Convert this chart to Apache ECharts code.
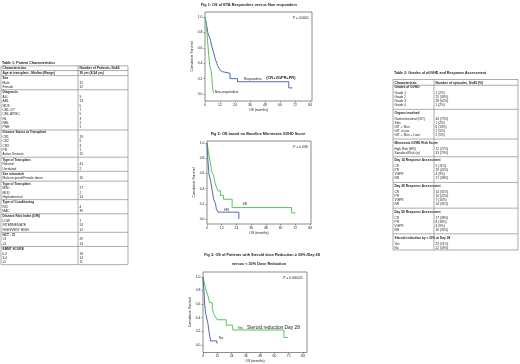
<!DOCTYPE html>
<html>
<head>
<meta charset="utf-8">
<script src="https://cdn.jsdelivr.net/npm/echarts@6/dist/echarts.min.js"></script>
<style>
html,body{margin:0;padding:0;background:#fff}
#main{width:520px;height:364px}
</style>
</head>
<body>
<div id="main"></div>
<script>
// ticks
var monthTicks = [0, 12, 24, 36, 48, 60, 72, 84];
var survTicks = [0, 0.2, 0.4, 0.6, 0.8, 1.0];

// Fig 1 - [months, cumulative survival]
var fig1Responders = [[0,1],[1,0.93],[1.5,0.87],[2.5,0.78],[3.5,0.74],[4.4,0.7],[5,0.65],[5.6,0.61],[6.3,0.57],[7,0.53],[8,0.47],[8.5,0.44],[9.5,0.4],[10,0.37],[11,0.34],[12,0.31],[13,0.29],[14,0.27],[20,0.2],[26,0.16],[67,0.08],[70,0.08]];
var fig1NonResponders = [[0,1],[1,0.9],[1.5,0.8],[2,0.7],[2.5,0.6],[3,0.5],[3.5,0.42],[4,0.35],[5,0.3],[5.5,0.2],[6,0.1],[6.5,0.04],[7,0.01]];

// Fig 2
var fig2SR = [[0,1],[1,0.9],[2,0.8],[3,0.72],[3.5,0.65],[4.5,0.6],[5.4,0.57],[6,0.52],[6.8,0.46],[8,0.41],[9,0.37],[11,0.31],[13.5,0.26],[20.5,0.15],[69,0.08],[72,0.08]];
var fig2HR = [[0,1],[0.8,0.76],[1.6,0.59],[3,0.5],[4.3,0.37],[5.4,0.26],[7,0.2],[7.6,0.13],[9,0.09],[26,0.09],[26.01,0]];

// Fig 3
var fig3Yes = [[0,1],[1.4,0.88],[2.8,0.79],[4.2,0.72],[5.5,0.62],[7.8,0.54],[8.9,0.46],[10.5,0.41],[12,0.37],[19.5,0.29],[25,0.22],[68,0.11],[71,0.11]];
var fig3No = [[0,1],[0.8,0.8],[1.4,0.6],[2.2,0.47],[3.3,0.38],[4.2,0.31],[5,0.2],[6.4,0.06],[11.7,0.06],[11.71,0.02]];

// Table 1
var table1Header = ['Characteristics', 'Number of Patients, N=45'];
var table1Sections = [
  {label: 'Age at transplant - Median (Range)', value: '30 yrs (8-54 yrs)', items: []},
  {label: 'Sex', items: [['Male','31'],['Female','12']]},
  {label: 'Diagnosis', items: [['ALL','9'],['AML','13'],['MDS','5'],['CML CP','7'],['CML AP/BC','5'],['HL','3'],['NHL','2'],['PNH','1']]},
  {label: 'Disease Status at Transplant', items: [['CR1','19'],['CR2','5'],['CR3','3'],['PR','1'],['Active Disease','15']]},
  {label: 'Type of Transplant', items: [['Related','41'],['Unrelated','2']]},
  {label: 'Sex mismatch', items: [['Male recipient/Female donor','16']]},
  {label: 'Type of Transplant', items: [['MSD','27'],['MUD','2'],['Haploidentical','14']]},
  {label: 'Type of Conditioning', items: [['RIC','4'],['MAC','39']]},
  {label: 'Disease Risk Index (DRI)', items: [['LOW','7'],['INTERMEDIATE','24'],['HIGH/VERY HIGH','12']]},
  {label: 'HCT - CI', items: [['<3','29'],['\u22653','14']]},
  {label: 'EBMT SCORE', items: [['0-2','18'],['3-4','14'],['\u22655','11']]}
];

// Table 2
var table2Header = ['Characteristic', 'Number of episodes, N=45 (%)'];
var table2Sections = [
  {label: 'Grades of GVHD', items: [['Grade 1','1 (2%)'],['Grade 2','15 (34%)'],['Grade 3','28 (62%)'],['Grade 4','1 (2%)']]},
  {label: 'Organs involved', items: [['Gastrointestinal (GIT)','34 (75%)'],['Skin','1 (2%)'],['GIT + Skin','6 (13%)'],['GIT +Liver','2 (5%)'],['GIT + Skin + Liver','2 (5%)']]},
  {label: 'Minnesota GVHD Risk Score', items: [['High Risk (HR)','12 (27%)'],['Standard Risk (sr)','33 (73%)']]},
  {label: 'Day 14 Response Assessment', items: [['CR','5 (11%)'],['PR','19 (42%)'],['VGPR','4 (9%)'],['NR','17 (38%)']]},
  {label: 'Day 28 Response Assessment', items: [['CR','14 (31%)'],['PR','10 (22%)'],['VGPR','7 (16%)'],['NR','14 (31%)']]},
  {label: 'Day 56 Response Assessment', items: [['CR','17 (38%)'],['PR','8 (18%)'],['VGPR','4 (9%)'],['NR','16 (35%)']]},
  {label: 'Steroid reduction by \u2265 30% at Day 28', items: [['Yes','23 (51%)'],['No','22 (49%)']]}
];

var BLUE = '#5468b4';
var GREEN = '#5cc25c';
var FONT = 'Liberation Sans';
var TXT = '#222';

function makeTable(t) {
  var els = [];
  var y = t.headerY;
  els.push({type:'text', style:{text:t.title, x:t.x0 + 1, y:t.titleY, font:'bold 3.6px ' + FONT, fill:TXT, verticalAlign:'middle'}});
  els.push({type:'text', style:{text:t.header[0], x:t.x0 + 1.5, y:y, font:'bold 3.3px ' + FONT, fill:TXT, verticalAlign:'middle'}});
  els.push({type:'text', style:{text:t.header[1], x:t.xDiv + 1.5, y:y, font:'bold 3.3px ' + FONT, fill:TXT, verticalAlign:'middle'}});
  var lines = [t.yTop];
  var last = y;
  t.sections.forEach(function (s, i) {
    var ly = i === 0 ? last + t.headerGap : last + t.sectionGap;
    lines.push((last + ly) / 2);
    els.push({type:'text', style:{text:s.label, x:t.x0 + 1.5, y:ly, font:'bold 3.2px ' + FONT, fill:TXT, verticalAlign:'middle'}});
    if (s.value) els.push({type:'text', style:{text:s.value, x:t.xDiv + 1.5, y:ly, font:'bold 3.2px ' + FONT, fill:TXT, verticalAlign:'middle'}});
    last = ly;
    s.items.forEach(function (it, j) {
      var iy = j === 0 ? last + t.labelGap : last + t.pitch;
      els.push({type:'text', style:{text:it[0], x:t.x0 + 1.5, y:iy, font:'3.2px ' + FONT, fill:TXT, verticalAlign:'middle'}});
      els.push({type:'text', style:{text:it[1], x:t.xDiv + 1.5, y:iy, font:'3.2px ' + FONT, fill:TXT, verticalAlign:'middle'}});
      last = iy;
    });
  });
  var yBot = last + 2.3;
  lines.push(yBot);
  lines.forEach(function (ly) {
    els.push({type:'line', shape:{x1:t.x0, y1:ly, x2:t.x1, y2:ly}, style:{stroke:'#8a8a8a', lineWidth:0.7}});
  });
  [t.x0, t.xDiv, t.x1].forEach(function (lx) {
    els.push({type:'line', shape:{x1:lx, y1:t.yTop, x2:lx, y2:yBot}, style:{stroke:'#8a8a8a', lineWidth:0.7}});
  });
  return els;
}

var grids = [
  {left:205, top:12, width:107, height:89},
  {left:207, top:141, width:104, height:83},
  {left:203, top:272, width:104, height:85}
];
var xMax = [85.6, 84.8, 87.4];
var yMin = [-0.09, -0.066, -0.11];
var yMax = [1.065, 1.026, 1.07];

var chart = echarts.init(document.getElementById('main'));

var option = {
  animation: false,
  backgroundColor: '#fff',
  grid: grids.map(function (g) {
    return {left:g.left, top:g.top, width:g.width, height:g.height, show:true, borderColor:'#707070', borderWidth:0.8, backgroundColor:'#fff'};
  }),
  xAxis: grids.map(function (g, i) {
    return {
      type:'value', gridIndex:i, min:0, max:xMax[i],
      name:'OS (months)', nameLocation:'middle', nameGap:7.5,
      nameTextStyle:{fontSize:3.4, fontFamily:FONT, color:TXT},
      axisLine:{show:false, onZero:false}, splitLine:{show:false},
      axisTick:{show:true, length:1.5, customValues:monthTicks, lineStyle:{color:'#555', width:0.6}},
      axisLabel:{fontSize:3.4, fontFamily:FONT, color:TXT, margin:2.3, customValues:monthTicks}
    };
  }),
  yAxis: grids.map(function (g, i) {
    return {
      type:'value', gridIndex:i, min:yMin[i], max:yMax[i],
      name:'Cumulative Survival', nameLocation:'middle', nameGap:9, nameRotate:90,
      nameTextStyle:{fontSize:3.4, fontFamily:FONT, color:TXT},
      axisLine:{show:false, onZero:false}, splitLine:{show:false},
      axisTick:{show:true, length:1.5, customValues:survTicks, lineStyle:{color:'#555', width:0.6}},
      axisLabel:{fontSize:3.4, fontFamily:FONT, color:TXT, margin:2.5, customValues:survTicks,
        formatter:function (v) { return v.toFixed(1); }}
    };
  }),
  series: [
    {name:'Responders', data:fig1Responders, idx:0, color:BLUE},
    {name:'Non-responders', data:fig1NonResponders, idx:0, color:GREEN},
    {name:'SR', data:fig2SR, idx:1, color:GREEN},
    {name:'HR', data:fig2HR, idx:1, color:BLUE},
    {name:'Yes', data:fig3Yes, idx:2, color:GREEN},
    {name:'No', data:fig3No, idx:2, color:BLUE}
  ].map(function (s) {
    return {
      type:'line', name:s.name, step:'end', data:s.data,
      xAxisIndex:s.idx, yAxisIndex:s.idx, showSymbol:false, silent:true,
      lineStyle:{color:s.color, width:1}
    };
  })
};
chart.setOption(option);

function at(i, x, y) { return chart.convertToPixel({gridIndex:i}, [x, y]); }

var graphics = [];
graphics = graphics.concat(makeTable({
  title:'Table 1: Patient Characteristics', titleY:62.5,
  header:table1Header, sections:table1Sections,
  x0:1, xDiv:78, x1:128, yTop:65.8, headerY:68.2,
  headerGap:4.8, labelGap:4.6, pitch:4.35, sectionGap:5.2
}));
graphics = graphics.concat(makeTable({
  title:'Table 2: Grades of aGVHD and Response Assessment', titleY:73,
  header:table2Header, sections:table2Sections,
  x0:393, xDiv:434, x1:518, yTop:79.5, headerY:83,
  headerGap:4.5, labelGap:6, pitch:4, sectionGap:7.7
}));

function txt(text, p, font, align) {
  return {type:'text', style:{text:text, x:p[0], y:p[1], font:font, fill:TXT, align:align || 'left', verticalAlign:'middle'}};
}
// figure titles
graphics.push(txt('Fig 1: OS of ETA Responders versus Non responders', [249, 5], 'bold 3.8px ' + FONT, 'center'));
graphics.push(txt('Fig 2: OS based on Baseline Minnesota GVHD Score', [258, 134], 'bold 3.8px ' + FONT, 'center'));
graphics.push(txt('Fig 3: OS of Patients with Steroid dose Reduction \u2265 30% /Day 28', [262, 254.5], 'bold 3.8px ' + FONT, 'center'));
graphics.push(txt('versus < 30% Dose Reduction', [259, 263.5], 'bold 3.8px ' + FONT, 'center'));
// in-plot annotations
graphics.push(txt('P = 0.0001', at(0, 83, 0.98), '3.3px ' + FONT, 'right'));
graphics.push(txt('Responders', at(0, 31, 0.2), '3.3px ' + FONT));
graphics.push(txt('(CR+VGPR+PR)', at(0, 49, 0.21), 'bold 3.9px ' + FONT));
graphics.push(txt('Non-responders', at(0, 7.8, 0.03), '3.3px ' + FONT));
graphics.push(txt('P = 0.008', at(1, 82, 0.94), '3.3px ' + FONT, 'right'));
graphics.push(txt('SR', at(1, 29, 0.2), '3.3px ' + FONT));
graphics.push(txt('HR', at(1, 14, 0.12), '3.3px ' + FONT));
graphics.push(txt('P = 0.000021', at(2, 84, 0.98), '3.3px ' + FONT, 'right'));
graphics.push(txt('Yes', at(2, 29, 0.25), '3.3px ' + FONT));
graphics.push(txt('Steroid reduction Day 28', at(2, 37, 0.26), '4.8px ' + FONT));
graphics.push(txt('No', at(2, 13.5, 0.1), '3.3px ' + FONT));

chart.setOption({graphic: graphics});
</script>
</body>
</html>
